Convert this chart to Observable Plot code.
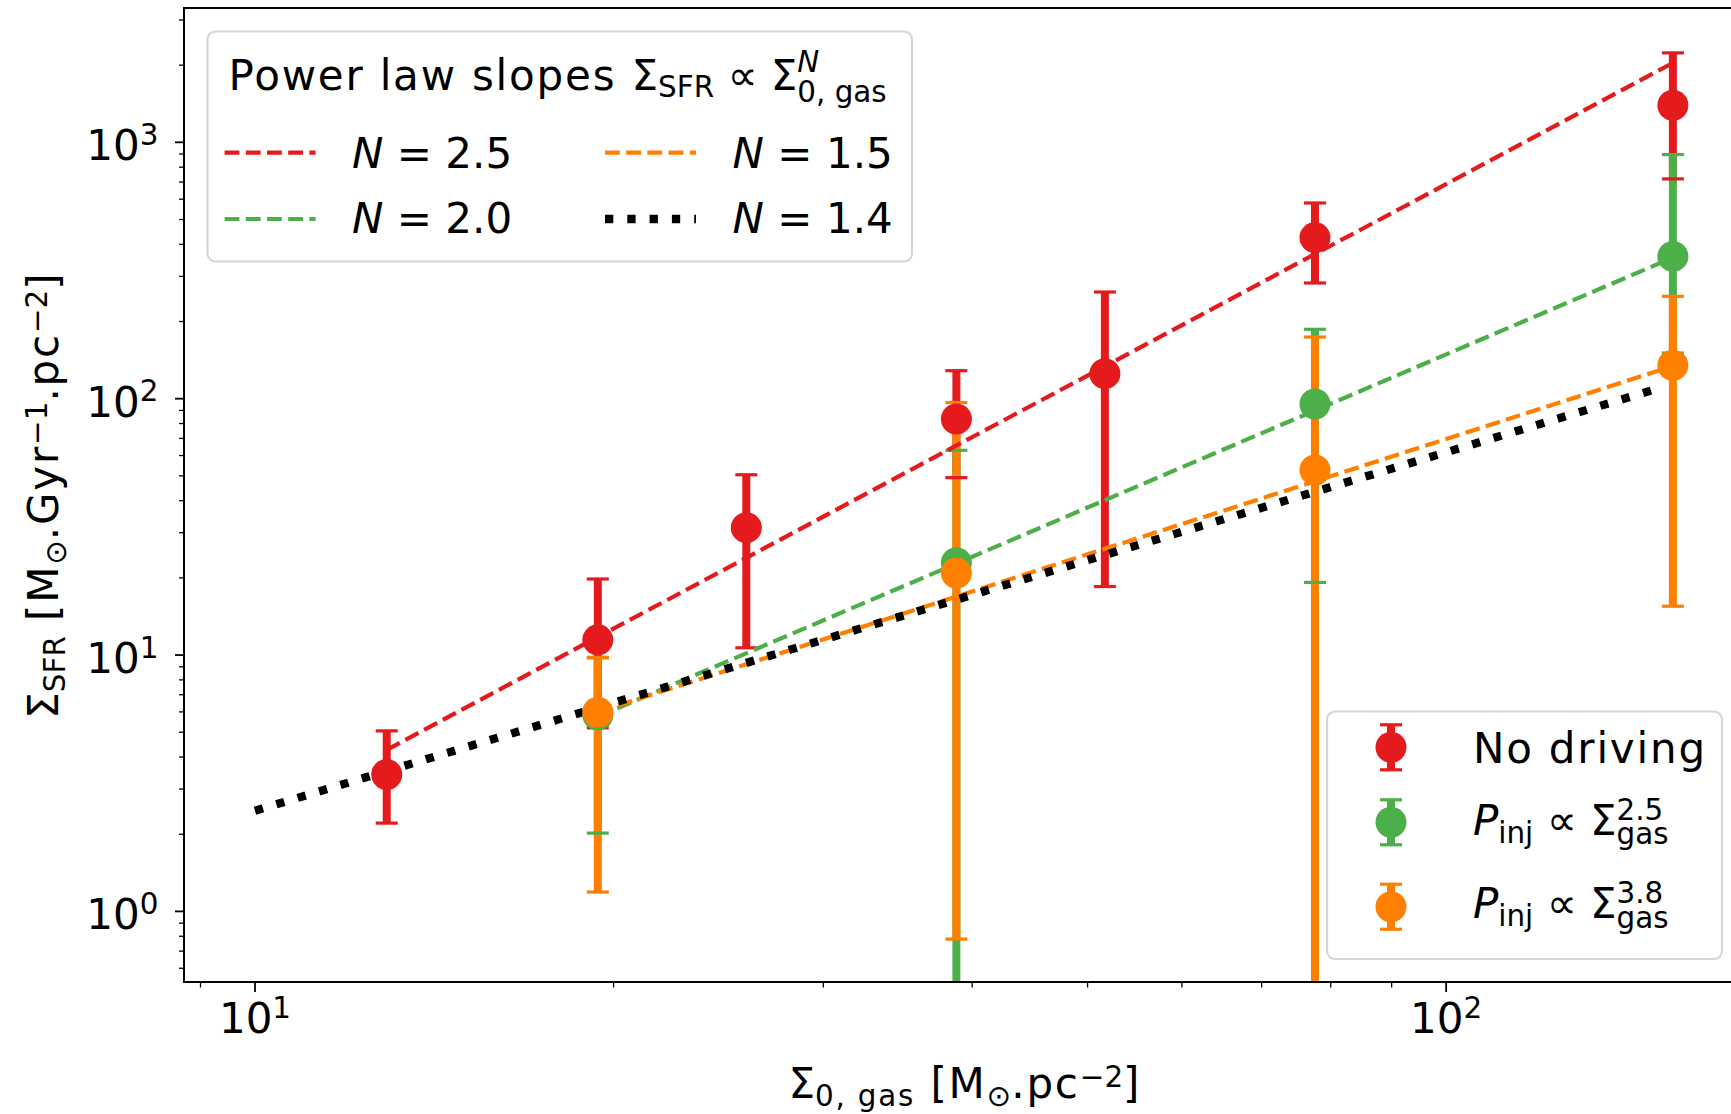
<!DOCTYPE html>
<html><head><meta charset="utf-8">
<script src="https://cdn.jsdelivr.net/npm/d3@7"></script>
<script src="https://cdn.jsdelivr.net/npm/@observablehq/plot@0.6"></script>
<style>
html,body{margin:0;padding:0;background:#fff;}
svg text{white-space:pre;}
</style></head><body>
<div id="chart"></div>
<script>
const FONT = "DejaVu Sans";
const FS = 42;
const LS = 1.8; // extra letter spacing of plain words (matplotlib hinting)
const RED = "#e41a1c", GREEN = "#4daf4a", ORANGE = "#ff7f00";

// ---- data ----
const xGas = [12.9, 19.4, 25.85, 38.8, 51.7, 77.6, 155];
const noDrivingY  = [3.42, 11.46, 31.4, 83.3, 125.2, 425, 1396];
const noDrivingLo = [2.21, 5.2, 10.67, 49.2, 18.5, 282.7, 720];
const noDrivingHi = [5.06, 19.8, 50.5, 128.6, 260.7, 580, 2233];

const drivenX = [19.4, 38.8, 77.6, 155];
const inj25Y  = [5.83, 22.9, 95.4, 359];
const inj25Lo = [2.02, 0.3, 19.2, 150.7];
const inj25Hi = [9.75, 62.9, 186.5, 896];
const inj38Y  = [5.98, 20.9, 52.7, 135];
const inj38Lo = [1.19, 0.78, 0.3, 15.5];
const inj38Hi = [9.8, 96.6, 174, 250.8];

// power-law guide lines (end points)
const fitN25 = [[12.9, 4.27], [155, 2040]];
const fitN20 = [[19.4, 5.75], [155, 355]];
const fitN15 = [[19.4, 6.0], [155, 134]];
const fitN14 = [[10, 2.47], [152, 111]];

// ticks
const xMajor = [10, 100];
const xMinor = [9, 20, 30, 40, 50, 60, 70, 80, 90];
const yMajor = [1, 10, 100, 1000];
const yMinor = [0.6, 0.7, 0.8, 0.9, 2, 3, 4, 5, 6, 7, 8, 9, 20, 30, 40, 50, 60, 70, 80, 90,
                200, 300, 400, 500, 600, 700, 800, 900, 2000, 3000];

const series = (xs, ys, lo, hi) => xs.map((x, i) => ({x, y: ys[i], lo: lo[i], hi: hi[i]}));
const red = series(xGas, noDrivingY, noDrivingLo, noDrivingHi);
const green = series(drivenX, inj25Y, inj25Lo, inj25Hi);
const orange = series(drivenX, inj38Y, inj38Lo, inj38Hi);

const capSymbol = {draw(ctx, size) { const r = Math.sqrt(size / Math.PI); ctx.moveTo(-r, 0); ctx.lineTo(r, 0); }};

const bars = (d, c) => Plot.ruleX(d, {x: "x", y1: "lo", y2: "hi", stroke: c, strokeWidth: 8, clip: true});
const caps = (d, c) => [
  Plot.dot(d, {x: "x", y: "hi", symbol: capSymbol, r: 11, stroke: c, strokeWidth: 3.2, fill: "none", clip: true}),
  Plot.dot(d, {x: "x", y: "lo", symbol: capSymbol, r: 11, stroke: c, strokeWidth: 3.2, fill: "none", clip: true})
];
const dots = (d, c) => Plot.dot(d, {x: "x", y: "y", r: 15.5, fill: c, stroke: "none"});
const fit = (d, c, w, dash) => Plot.line(d, {x: (p) => p[0], y: (p) => p[1], stroke: c, strokeWidth: w,
  strokeDasharray: dash, strokeLinecap: "butt"});

const svg = Plot.plot({
  width: 1731, height: 1114,
  marginLeft: 184, marginRight: 0, marginTop: 8, marginBottom: 132,
  style: {fontFamily: FONT, fontSize: FS + "px", background: "white", color: "black", overflow: "visible"},
  x: {type: "log", domain: [8.726, 173.6], axis: null},
  y: {type: "log", domain: [0.528, 3327], axis: null},
  marks: [
    Plot.axisY({ticks: yMinor, tickSize: 5, fill: "none", label: null, strokeWidth: 1.3}),
    Plot.axisY({ticks: yMajor, tickSize: 9, tickPadding: 17, label: null, strokeWidth: 1.8,
      tickFormat: (d) => "10^" + Math.round(Math.log10(d))}),
    Plot.axisX({ticks: xMinor, tickSize: 5.5, fill: "none", label: null, strokeWidth: 1.3}),
    Plot.axisX({ticks: xMajor, tickSize: 10, tickPadding: 11, label: null, strokeWidth: 1.8,
      tickFormat: (d) => "10^" + Math.round(Math.log10(d))}),
    bars(red, RED), bars(green, GREEN), bars(orange, ORANGE),
    caps(red, RED), caps(green, GREEN), caps(orange, ORANGE),
    fit(fitN25, RED, 4.2, "14.8,6.4"),
    fit(fitN20, GREEN, 4.2, "14.8,6.4"),
    fit(fitN15, ORANGE, 4.2, "14.8,6.4"),
    fit(fitN14, "black", 8.3, "8.3,14"),
    dots(red, RED), dots(green, GREEN), dots(orange, ORANGE)
  ]
});
document.getElementById("chart").appendChild(svg);

const root = d3.select(svg);

// superscript exponents in tick labels
root.selectAll('g[aria-label="y-axis tick label"] text, g[aria-label="x-axis tick label"] text').each(function () {
  const s = this.textContent;
  const parts = s.split("^");
  if (parts.length < 2) return;
  this.textContent = parts[0];
  d3.select(this).append("tspan").attr("dy", -15.5).attr("font-size", FS * 0.7).text(parts[1]);
});
root.selectAll('g[aria-label="y-axis tick label"] text').attr("y", "0.43em");

// spines (left, top, bottom)
const xs = svg.scale("x").range, ys = svg.scale("y").range;
const xL = Math.min(...xs), xR = Math.max(...xs), yT = Math.min(...ys), yB = Math.max(...ys);
root.append("path")
  .attr("d", `M${xR},${yT}H${xL}V${yB}H${xR}`)
  .attr("fill", "none").attr("stroke", "black").attr("stroke-width", 2);

// rich text helper
function rich(parent, x, y, segs, {size = FS, anchor = "start", transform = null} = {}) {
  const t = parent.append("text").attr("x", x).attr("y", y)
    .attr("font-family", FONT).attr("font-size", size).attr("text-anchor", anchor).attr("fill", "black")
    .attr("xml:space", "preserve");
  if (transform) t.attr("transform", transform);
  let cur = 0, prev = null;
  for (const s of segs) {
    const off = s.off || 0;
    const ts = t.append("tspan").attr("font-size", size * (s.scale || 1)).attr("dy", off - cur).text(s.t);
    if (s.italic) ts.attr("font-style", "italic");
    if (s.ls) ts.attr("letter-spacing", s.ls);
    if (s.stack && prev) ts.attr("dx", -prev.node().getComputedTextLength());
    cur = off; prev = ts;
  }
  return t;
}

// axis labels
rich(root, 964, 1098, [
  {t: "Σ"}, {t: "0, gas", scale: 0.7, off: 8, ls: LS}, {t: " [M", ls: LS}, {t: "⊙", scale: 0.7, off: 8},
  {t: ".pc", ls: LS}, {t: "−2", scale: 0.7, off: -11}, {t: "]"}
], {anchor: "middle"});
rich(root, 0, 0, [
  {t: "Σ"}, {t: "SFR", scale: 0.7, off: 7}, {t: " [M", ls: LS}, {t: "⊙", scale: 0.7, off: 8},
  {t: ".Gyr", ls: LS}, {t: "−1", scale: 0.7, off: -11}, {t: ".pc", ls: LS}, {t: "−2", scale: 0.7, off: -11}, {t: "]"}
], {anchor: "middle", transform: "translate(58,496) rotate(-90)"});

// legend 1: power law slopes
const lg1 = root.append("g");
lg1.append("rect").attr("x", 207.5).attr("y", 31.5).attr("width", 704.5).attr("height", 230)
  .attr("rx", 8).attr("fill", "white").attr("fill-opacity", 0.8).attr("stroke", "#d6d6d6").attr("stroke-width", 2.2);
rich(lg1, 228.5, 90, [
  {t: "Power law slopes ", ls: LS}, {t: "Σ"}, {t: "SFR", scale: 0.7, off: 7}, {t: " ∝ Σ"},
  {t: "N", scale: 0.7, off: -18, italic: true}, {t: "0, gas", scale: 0.7, off: 11.5, stack: true}
]);
const lgLines = [
  {x: 224.6, y: 152.7, c: RED, w: 4.2, dash: "14.8,6.4", tx: 352, ty: 168.3, v: "2.5"},
  {x: 224.6, y: 219, c: GREEN, w: 4.2, dash: "14.8,6.4", tx: 352, ty: 233.3, v: "2.0"},
  {x: 605, y: 152.7, c: ORANGE, w: 4.2, dash: "14.8,6.4", tx: 732.6, ty: 168.3, v: "1.5"},
  {x: 605, y: 219, c: "black", w: 8.3, dash: "8.3,14", tx: 732.6, ty: 233.3, v: "1.4"}
];
for (const l of lgLines) {
  lg1.append("line").attr("x1", l.x).attr("x2", l.x + 91).attr("y1", l.y).attr("y2", l.y)
    .attr("stroke", l.c).attr("stroke-width", l.w).attr("stroke-dasharray", l.dash);
  rich(lg1, l.tx, l.ty, [{t: "N", italic: true}, {t: " = " + l.v}]);
}

// legend 2: driving
const lg2 = root.append("g");
lg2.append("rect").attr("x", 1327).attr("y", 711.5).attr("width", 395).attr("height", 247.5)
  .attr("rx", 8).attr("fill", "white").attr("fill-opacity", 0.8).attr("stroke", "#d6d6d6").attr("stroke-width", 2.2);
const lg2Rows = [
  {c: RED, y: 747.3, ty: 763.3, segs: [{t: "No driving", ls: LS}]},
  {c: GREEN, y: 822.3, ty: 835, segs: [{t: "P", italic: true}, {t: "inj", scale: 0.7, off: 8}, {t: " ∝ Σ"},
    {t: "2.5", scale: 0.7, off: -15}, {t: "gas", scale: 0.7, off: 9.3, stack: true}]},
  {c: ORANGE, y: 906.7, ty: 918.3, segs: [{t: "P", italic: true}, {t: "inj", scale: 0.7, off: 8}, {t: " ∝ Σ"},
    {t: "3.8", scale: 0.7, off: -15}, {t: "gas", scale: 0.7, off: 9.3, stack: true}]}
];
for (const r of lg2Rows) {
  const hx = 1391;
  lg2.append("line").attr("x1", hx).attr("x2", hx).attr("y1", r.y - 22.5).attr("y2", r.y + 22.5)
    .attr("stroke", r.c).attr("stroke-width", 8);
  for (const dy of [-22.5, 22.5])
    lg2.append("line").attr("x1", hx - 11).attr("x2", hx + 11).attr("y1", r.y + dy).attr("y2", r.y + dy)
      .attr("stroke", r.c).attr("stroke-width", 3.2);
  lg2.append("circle").attr("cx", hx).attr("cy", r.y).attr("r", 15.5).attr("fill", r.c);
  rich(lg2, 1473, r.ty, r.segs);
}
</script>
</body></html>
